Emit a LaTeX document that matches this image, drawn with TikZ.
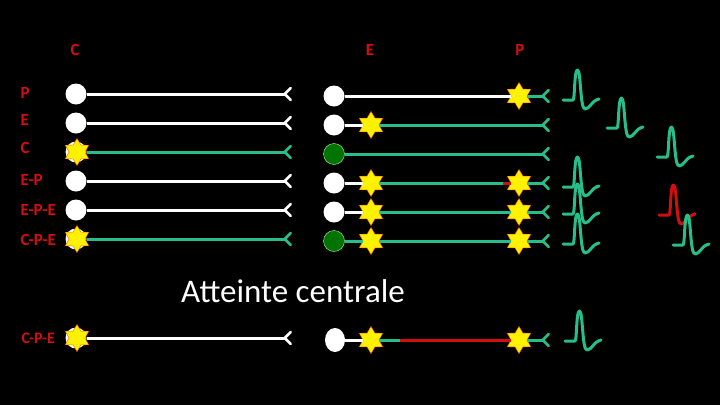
\documentclass[tikz,border=0pt]{standalone}
\usepackage{fontspec}
\setmainfont{Carlito}
\usetikzlibrary{shapes.geometric,arrows.meta}

\definecolor{lblred}{RGB}{210,15,15}
\definecolor{axgreen}{RGB}{40,190,140}
\definecolor{somagreen}{RGB}{0,115,0}

\tikzset{
  soma/.style={circle,fill=white,minimum size=21pt,inner sep=0pt},
  deadsoma/.style={circle,fill=somagreen,draw=green!35!white,minimum size=21pt,inner sep=0pt},
  flash/.style={star,star points=6,star point ratio=1.7,fill=yellow,draw=orange!70!red,minimum size=27pt,inner sep=0pt},
  axon/.style={line width=3pt},
  ending/.style={axon,-{Straight Barb[reversed,length=6pt,width=12pt,line width=2.5pt,line cap=round]}},
  lbl/.style={text=lblred,font=\bfseries\fontsize{17}{17}\selectfont},
  spike/.pic={\draw[line width=3pt,line join=round,line cap=round]
     (0,0) -- (10,0) .. controls (12,0) and (11,-30) .. (14.5,-30)
     .. controls (18,-30) and (17,9) .. (22,9) .. controls (27,9) and (28,1) .. (36,-1);}
}

\begin{document}
\begin{tikzpicture}[x=1pt,y=-1pt]
  \useasboundingbox[fill=black] (0,0) rectangle (720,405);

  % column heads
  \node[lbl] (hc) at (75,50) {C};
  \node[lbl] (he) at (370,50) {E};
  \node[lbl] (hp) at (520,50) {P};

  % row names
  \foreach [count=\i] \t/\y in {P/93, E/120, C/148, E-P/180, E-P-E/210, C-P-E/240}
    \node[lbl,anchor=west] (r\i) at (17,\y) {\t};
  \node[lbl,anchor=west,font=\bfseries\fontsize{16}{16}\selectfont] (r7) at (18,338) {C-P-E};

  % left column
  \foreach \n/\y/\c in {p/94/white, e/123/white, c/152/axgreen,
      ep/181/white, epe/210/white, cpe/239/axgreen, bot/338/white} {
    \node[soma] (l\n) at (76,\y) {};
    \coordinate (lt\n) at (292,\y);
    \draw[ending,\c] (l\n) -- (lt\n);
  }
  \foreach \n/\y in {c/152, cpe/239, bot/338}
    \node[flash] (f\n) at (77,\y) {};

  % right column
  \foreach \n/\y/\k in {p/96/soma, e/125/soma, c/154/deadsoma, ep/183/soma,
      epe/212/soma, cpe/241/deadsoma} {
    \node[\k] (m\n) at (334,\y) {};
    \coordinate (mt\n) at (550,\y);
  }
  \node[soma,ellipse,minimum width=20pt,minimum height=24pt] (mbot) at (335,340) {};
  \coordinate (mtbot) at (550,340);

  \foreach \n/\y in {e/125, ep/183, epe/212, cpe/241, bot/340}
    \node[flash] (s\n) at (371,\y) {};
  \foreach \n/\y in {p/96, ep/183, epe/212, cpe/241, bot/340}
    \node[flash] (q\n) at (519,\y) {};

  \coordinate (kep) at (503,183);
  \coordinate (kbot) at (400,340);

  \draw[axon,white] (mp) -- (qp);
  \draw[ending,axgreen] (qp) -- (mtp);
  \draw[axon,white] (me) -- (se);
  \draw[ending,axgreen] (se) -- (mte);
  \draw[ending,axgreen] (mc) -- (mtc);
  \draw[axon,white] (mep) -- (sep);
  \draw[axon,axgreen] (sep) -- (kep);
  \draw[axon,lblred] (kep) -- (qep);
  \draw[ending,axgreen] (qep) -- (mtep);
  \draw[axon,white] (mepe) -- (sepe);
  \draw[axon,axgreen] (sepe) -- (qepe);
  \draw[ending,axgreen] (qepe) -- (mtepe);
  \draw[axon,axgreen] (mcpe) -- (scpe);
  \draw[axon,axgreen] (scpe) -- (qcpe);
  \draw[ending,axgreen] (qcpe) -- (mtcpe);
  \draw[axon,white] (mbot) -- (sbot);
  \draw[axon,axgreen] (sbot) -- (kbot);
  \draw[axon,lblred] (kbot) -- (qbot);
  \draw[ending,axgreen] (qbot) -- (mtbot);

  % responses
  \foreach \x/\y in {563/100, 607/128, 657/157, 563/187, 563/214, 563/244, 565/341}
    \pic[axgreen] at (\x,\y) {spike};
  \pic[lblred] at (659,215) {spike};
  \pic[axgreen] at (673,245) {spike};

  \node[text=white,font=\fontsize{33}{33}\selectfont] (title) at (293,291) {Atteinte centrale};
\end{tikzpicture}
\end{document}
